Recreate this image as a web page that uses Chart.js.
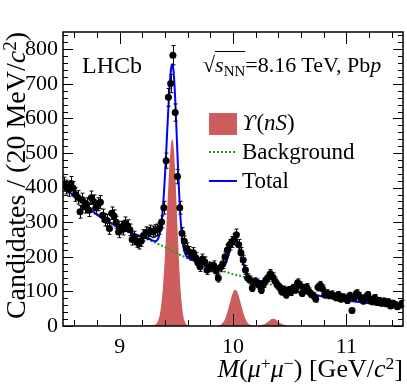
<!DOCTYPE html>
<html>
<head>
<meta charset="utf-8">
<script src="https://cdn.jsdelivr.net/npm/chart.js@4.4.1/dist/chart.umd.min.js"></script>
<style>
  body { margin: 0; background: #fff; }
  #wrap { position: relative; width: 407px; height: 391px; font-family: "Liberation Serif", "Times New Roman", serif; color: #000; }
  .lbl { position: absolute; white-space: nowrap; line-height: 1; }
  .sup { font-size: 0.68em; position: relative; top: -0.45em; }
  .sub { font-size: 0.68em; position: relative; top: 0.25em; }
</style>
</head>
<body>
<div id="wrap">
  <canvas id="chart" width="407" height="391"></canvas>

  <div class="lbl" style="left:0; top:0; width:300px; font-size:28px; text-align:right; transform-origin:0 0; transform:translate(2px,332px) rotate(-90deg);">Candidates / (20 MeV/<i>c</i><span class="sup">2</span>)</div>
  <div class="lbl" style="right:4px; top:356px; font-size:26px;"><i>M</i>(<i>μ</i><span class="sup">+</span><i>μ</i><span class="sup">−</span>) [GeV/<i>c</i><span class="sup">2</span>]</div>

  <div class="lbl" style="left:82px; top:53px; font-size:24px;">LHCb</div>
  <div class="lbl" style="left:203px; top:54px; font-size:22px;">√<span style="border-top:1px solid #000;"><i>s</i><span class="sub">NN</span></span>=8.16 TeV, Pb<i>p</i></div>

  <div class="lbl" style="left:242px; top:111px; font-size:23px;"><i style="font-family:'DejaVu Serif', serif; font-size:21px;">ϒ</i>(<i>nS</i>)</div>
  <div class="lbl" style="left:242px; top:140px; font-size:23px;">Background</div>
  <div class="lbl" style="left:242px; top:169px; font-size:23px;">Total</div>
</div>

<script>
// histogram: 20 MeV bins from 8.5 to 11.5 GeV
const massMin = 8.5;
const binWidth = 0.02;
const counts = [
  410, 402, 395, 412, 398, 380, 372, 330, 365, 345, 352, 335, 371, 360, 342, 352, 358, 320, 307, 305, 282, 326, 318, 300, 272,
  286, 280, 298, 290, 278, 250, 258, 243, 238, 246, 262, 270, 268, 275, 272, 276, 278, 282, 301, 342, 478, 661, 701, 783, 617,
  432, 342, 268, 245, 225, 215, 205, 212, 198, 183, 171, 194, 186, 162, 172, 170, 175, 160, 139, 170, 180, 200, 220, 235, 243,
  250, 264, 235, 212, 191, 162, 139, 133, 110, 128, 125, 118, 104, 122, 133, 140, 151, 142, 130, 119, 112, 99, 105, 90, 104,
  98, 110, 105, 125, 118, 95, 110, 112, 100, 92, 88, 78, 112, 118, 108, 90, 95, 88, 92, 86, 82, 90, 78, 84, 80,
  74, 88, 45, 82, 95, 88, 80, 72, 84, 90, 76, 70, 82, 68, 74, 66, 72, 64, 70, 58, 66, 62, 56, 60, 66
];

// fit curves
const curveMass = [
  8.50, 8.60, 8.70, 8.80, 8.90, 9.00, 9.10, 9.20, 9.25, 9.28,
  9.30, 9.32, 9.33, 9.34, 9.35, 9.36, 9.37, 9.38, 9.39, 9.40,
  9.41, 9.42, 9.43, 9.44, 9.45, 9.46, 9.465, 9.47, 9.48, 9.49,
  9.50, 9.51, 9.52, 9.53, 9.54, 9.55, 9.56, 9.57, 9.58, 9.59,
  9.60, 9.62, 9.65, 9.70, 9.80, 9.86, 9.88, 9.90, 9.92, 9.94,
  9.96, 9.98, 10.00, 10.01, 10.02, 10.03, 10.04, 10.06, 10.08, 10.10,
  10.12, 10.14, 10.16, 10.18, 10.22, 10.25, 10.28, 10.30, 10.32, 10.34,
  10.355, 10.37, 10.39, 10.41, 10.43, 10.46, 10.49, 10.52, 10.60, 10.70,
  10.80, 10.90, 11.00, 11.10, 11.20, 11.30, 11.40, 11.50
];
const bkgCurve = [
  405, 375, 348, 322, 300, 283, 269, 256, 250, 246,
  243, 240, 239, 237, 236, 234, 233, 231, 230, 228,
  226, 225, 223, 221, 219, 218, 217, 216, 214, 213,
  211, 209, 208, 206, 205, 203, 202, 200, 199, 197,
  196, 193, 189, 183, 171, 164, 162, 160, 158, 156,
  154, 152, 150, 149, 148, 147, 146, 145, 143, 141,
  139, 137, 135, 134, 130, 127, 125, 123, 121, 119,
  118, 117, 115, 113, 111, 108, 106, 103, 97, 91,
  85, 80, 75, 70, 66, 62, 58, 55
];
const sigCurve = [
  0, 0, 0, 0, 1, 1, 1, 2, 3, 3,
  3, 5, 9, 16, 27, 44, 70, 105, 151, 208,
  272, 342, 409, 469, 513, 537, 540, 536, 503, 444,
  368, 287, 210, 144, 93, 57, 32, 17, 9, 4,
  2, 1, 1, 0, 0, 1, 2, 6, 14, 29,
  51, 76, 97, 103, 105, 103, 97, 76, 51, 29,
  14, 6, 2, 1, 1, 3, 6, 10, 15, 20,
  21, 20, 15, 10, 6, 3, 1, 0, 0, 0,
  0, 0, 0, 0, 0, 0, 0, 0
];

const xMajor = [9, 10, 11];
const yMajor = [0, 100, 200, 300, 400, 500, 600, 700, 800];

const points = counts.map((n, i) => ({ x: massMin + binWidth * (i + 0.5), y: n }));
const bkgPts = curveMass.map((m, i) => ({ x: m, y: bkgCurve[i] }));
const sigPts = curveMass.map((m, i) => ({ x: m, y: sigCurve[i] }));
const totPts = curveMass.map((m, i) => ({ x: m, y: bkgCurve[i] + sigCurve[i] }));

const serif = '"Liberation Serif", "Times New Roman", serif';
const blue = '#0000ff';
const green = '#19a019';
const red = 'rgb(205,92,92)';

// error bars, inward ticks on all four sides, frame and legend keys
const decor = {
  id: 'decor',
  afterDatasetsDraw(chart) {
    const { ctx, chartArea: a, scales } = chart;
    const sx = scales.x, sy = scales.y;
    ctx.save();
    ctx.strokeStyle = '#000';
    ctx.lineWidth = 1;
    ctx.beginPath();
    points.forEach(p => {
      const px = Math.round(sx.getPixelForValue(p.x)) + 0.5;
      const e = Math.sqrt(p.y);
      const y1 = sy.getPixelForValue(p.y - e);
      const y2 = sy.getPixelForValue(p.y + e);
      ctx.moveTo(px, y1); ctx.lineTo(px, y2);
      ctx.moveTo(px - 2, y1); ctx.lineTo(px + 2, y1);
      ctx.moveTo(px - 2, y2); ctx.lineTo(px + 2, y2);
    });
    ctx.stroke();

    // ticks
    ctx.beginPath();
    for (let k = 0; k <= 14; k++) {
      const v = 8.6 + 0.2 * k;
      const major = Math.abs(v - Math.round(v)) < 1e-6;
      const len = major ? 12 : 6;
      const px = Math.round(sx.getPixelForValue(v)) + 0.5;
      ctx.moveTo(px, a.bottom); ctx.lineTo(px, a.bottom - len);
      ctx.moveTo(px, a.top); ctx.lineTo(px, a.top + len);
    }
    for (let v = 0; v <= 840; v += 20) {
      const major = v % 100 === 0;
      const len = major ? 10 : 5;
      const py = Math.round(sy.getPixelForValue(v)) + 0.5;
      ctx.moveTo(a.left, py); ctx.lineTo(a.left + len, py);
      ctx.moveTo(a.right, py); ctx.lineTo(a.right - len, py);
    }
    ctx.stroke();

    ctx.lineWidth = 1.5;
    ctx.strokeRect(a.left, a.top, a.right - a.left, a.bottom - a.top);

    // legend keys
    ctx.fillStyle = red;
    ctx.fillRect(209, 113, 28, 22);
    ctx.strokeStyle = green;
    ctx.lineWidth = 2;
    ctx.setLineDash([2, 2]);
    ctx.beginPath(); ctx.moveTo(209, 152); ctx.lineTo(237, 152); ctx.stroke();
    ctx.setLineDash([]);
    ctx.strokeStyle = blue;
    ctx.beginPath(); ctx.moveTo(209, 181); ctx.lineTo(237, 181); ctx.stroke();
    ctx.restore();
  }
};

new Chart(document.getElementById('chart'), {
  type: 'scatter',
  data: {
    datasets: [
      { data: points, pointRadius: 3.5, pointBackgroundColor: '#000', pointBorderWidth: 0, order: 0 },
      { data: totPts, showLine: true, borderColor: blue, borderWidth: 2, pointRadius: 0,
        cubicInterpolationMode: 'monotone', order: 1 },
      { data: bkgPts, showLine: true, borderColor: green, borderWidth: 2, borderDash: [2, 2], pointRadius: 0,
        cubicInterpolationMode: 'monotone', order: 2 },
      { data: sigPts, showLine: true, borderWidth: 0, borderColor: red, backgroundColor: red, fill: 'origin',
        pointRadius: 0, cubicInterpolationMode: 'monotone', order: 3 }
    ]
  },
  options: {
    responsive: false,
    animation: false,
    layout: { padding: { top: 32, right: 3, left: 0, bottom: 0 } },
    plugins: { legend: { display: false }, tooltip: { enabled: false } },
    scales: {
      x: {
        type: 'linear', min: 8.5, max: 11.5,
        grid: { display: false, drawTicks: false },
        border: { display: false },
        afterBuildTicks: s => { s.ticks = xMajor.map(v => ({ value: v })); },
        afterFit: s => { s.height = 65; },
        ticks: { color: '#000', padding: 8, maxRotation: 0, font: { family: serif, size: 22 } }
      },
      y: {
        min: 0, max: 850,
        grid: { display: false, drawTicks: false },
        border: { display: false },
        afterBuildTicks: s => { s.ticks = yMajor.map(v => ({ value: v })); },
        afterFit: s => { s.width = 63; },
        ticks: { color: '#000', padding: 5, font: { family: serif, size: 22 } }
      }
    }
  },
  plugins: [decor]
});
</script>
</body>
</html>
